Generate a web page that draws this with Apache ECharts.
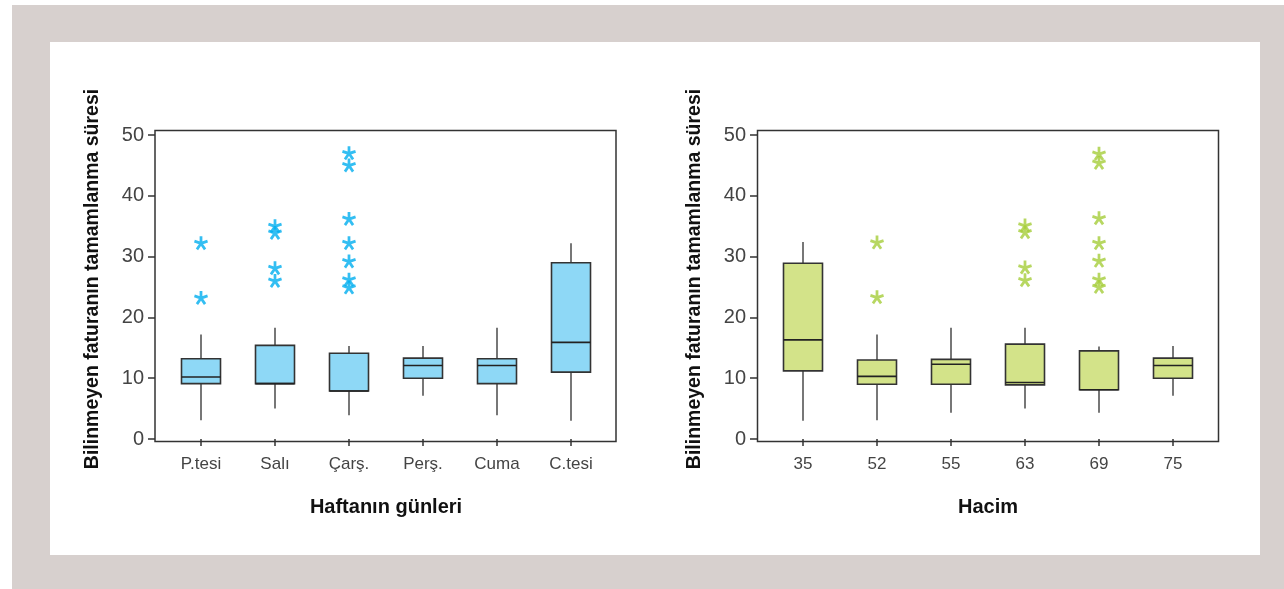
<!DOCTYPE html>
<html>
<head>
<meta charset="utf-8">
<script src="https://cdn.jsdelivr.net/npm/echarts@6/dist/echarts.min.js"></script>
<style>
  html, body { margin: 0; padding: 0; background: #fff; }
  #chart { width: 1284px; height: 589px; }
</style>
</head>
<body>
<div id="chart"></div>
<script>
  // gün gruplari ve hacim gruplari
  const days = ['P.tesi', 'Salı', 'Çarş.', 'Perş.', 'Cuma', 'C.tesi'];
  const volumes = ['35', '52', '55', '63', '69', '75'];

  // [min, Q1, medyan, Q3, max]
  const dayBoxes = [
    [3.1, 9.1, 10.2, 13.2, 17.2],
    [5.0, 9.1, 9.1, 15.4, 18.3],
    [3.9, 7.9, 7.9, 14.1, 15.3],
    [7.1, 10.0, 12.1, 13.3, 15.3],
    [3.9, 9.1, 12.1, 13.2, 18.3],
    [3.0, 11.0, 15.9, 29.0, 32.2]
  ];
  const volumeBoxes = [
    [3.0, 11.2, 16.3, 28.9, 32.4],
    [3.1, 9.0, 10.3, 13.0, 17.2],
    [4.3, 9.0, 12.3, 13.1, 18.3],
    [5.0, 8.9, 9.3, 15.6, 18.3],
    [4.3, 8.1, 8.1, 14.5, 15.2],
    [7.1, 10.0, 12.1, 13.3, 15.3]
  ];

  // aykiri degerler [grup, deger]
  const dayOutliers = [
    ['P.tesi', 32.2], ['P.tesi', 23.2],
    ['Salı', 35.0], ['Salı', 33.9], ['Salı', 28.1], ['Salı', 26.0],
    ['Çarş.', 47.0], ['Çarş.', 45.0], ['Çarş.', 36.2], ['Çarş.', 32.2], ['Çarş.', 29.2], ['Çarş.', 26.2], ['Çarş.', 24.9]
  ];
  const volumeOutliers = [
    ['52', 32.3], ['52', 23.3],
    ['63', 35.1], ['63', 34.0], ['63', 28.2], ['63', 26.1],
    ['69', 46.9], ['69', 45.4], ['69', 36.3], ['69', 32.2], ['69', 29.3], ['69', 26.2], ['69', 25.0]
  ];

  const yTitle = 'Bilinmeyen faturanın tamamlanma süresi';

  // yildiz (asterisk) sembolu
  const starPath = (() => {
    let d = '';
    const w = 0.2;
    for (let i = 0; i < 5; i++) {
      const a = -Math.PI / 2 + i * 2 * Math.PI / 5;
      const dx = Math.cos(a), dy = Math.sin(a);
      const px = -dy * w, py = dx * w;
      const pts = [
        [px, py], [dx + px, dy + py], [dx - px, dy - py], [-px, -py]
      ];
      d += 'M' + pts.map(p => (p[0] + 1).toFixed(3) + ' ' + (p[1] + 1).toFixed(3)).join('L') + 'Z';
    }
    return 'path://' + d;
  })();

  const font = 'Liberation Sans';
  const boxHalf = 19.5;

  const makeX = (cats, gi, name) => ({
    type: 'category',
    gridIndex: gi,
    data: cats,
    offset: 3,
    name: name,
    nameLocation: 'middle',
    nameGap: 55,
    nameTextStyle: { fontFamily: font, fontWeight: 'bold', fontSize: 20, color: '#111' },
    axisLine: { show: false },
    axisTick: { show: true, alignWithLabel: true, length: 7, lineStyle: { color: '#333', width: 1.5 } },
    axisLabel: { fontFamily: font, fontSize: 17, color: '#444', margin: 14 },
    splitLine: { show: false }
  });

  const makeY = (gi) => ({
    type: 'value',
    gridIndex: gi,
    min: 0,
    max: 50,
    interval: 10,
    offset: 9,
    name: yTitle,
    nameLocation: 'middle',
    nameGap: 52,
    nameTextStyle: { fontFamily: font, fontWeight: 'bold', fontSize: 19.5, color: '#111', padding: [0, 0, 0, 16] },
    axisLine: { show: false },
    axisTick: { show: true, length: 7, lineStyle: { color: '#333', width: 1.5 } },
    axisLabel: { fontFamily: font, fontSize: 20, color: '#444', margin: 11 },
    splitLine: { show: false }
  });

  // kutu + biyik, uclarinda cizgi olmadan
  const boxSeries = (boxes, gi, fill) => ({
    type: 'custom',
    xAxisIndex: gi,
    yAxisIndex: gi,
    data: boxes.map((b, i) => [i].concat(b)),
    encode: { x: 0, y: [1, 2, 3, 4, 5] },
    renderItem: (params, api) => {
      const i = api.value(0);
      const lo = api.coord([i, api.value(1)]);
      const q1 = api.coord([i, api.value(2)]);
      const md = api.coord([i, api.value(3)]);
      const q3 = api.coord([i, api.value(4)]);
      const hi = api.coord([i, api.value(5)]);
      const x = lo[0];
      const whisker = { stroke: '#555', lineWidth: 1.6 };
      return {
        type: 'group',
        children: [
          { type: 'line', shape: { x1: x, y1: lo[1], x2: x, y2: q1[1] }, style: whisker },
          { type: 'line', shape: { x1: x, y1: q3[1], x2: x, y2: hi[1] }, style: whisker },
          {
            type: 'rect',
            shape: { x: x - boxHalf, y: q3[1], width: boxHalf * 2, height: q1[1] - q3[1] },
            style: { fill: fill, stroke: '#333', lineWidth: 1.6 }
          },
          { type: 'line', shape: { x1: x - boxHalf, y1: md[1], x2: x + boxHalf, y2: md[1] }, style: { stroke: '#222', lineWidth: 1.6 } }
        ]
      };
    }
  });

  const starSeries = (data, gi, color) => ({
    type: 'scatter',
    xAxisIndex: gi,
    yAxisIndex: gi,
    data: data,
    symbol: starPath,
    symbolSize: 14,
    itemStyle: { color: color }
  });

  const frame = (x, y, w, h) => ({
    type: 'rect',
    shape: { x: x, y: y, width: w, height: h },
    style: { fill: null, stroke: '#333', lineWidth: 1.5 },
    z: 10
  });

  const chart = echarts.init(document.getElementById('chart'));
  chart.setOption({
    animation: false,
    graphic: [
      { type: 'rect', shape: { x: 12, y: 5, width: 1272, height: 584 }, style: { fill: '#d7d0ce' }, z: -10 },
      { type: 'rect', shape: { x: 50, y: 42, width: 1210, height: 513 }, style: { fill: '#ffffff' }, z: -9 },
      frame(155, 130.5, 461, 311),
      frame(757.5, 130.5, 461, 311)
    ],
    grid: [
      { left: 164, top: 135, width: 444, height: 304 },
      { left: 766, top: 135, width: 444, height: 304 }
    ],
    xAxis: [makeX(days, 0, 'Haftanın günleri'), makeX(volumes, 1, 'Hacim')],
    yAxis: [makeY(0), makeY(1)],
    series: [
      boxSeries(dayBoxes, 0, '#8ed8f6'),
      starSeries(dayOutliers, 0, '#00aeef'),
      boxSeries(volumeBoxes, 1, '#d3e389'),
      starSeries(volumeOutliers, 1, '#a5cd39')
    ]
  });
</script>
</body>
</html>
